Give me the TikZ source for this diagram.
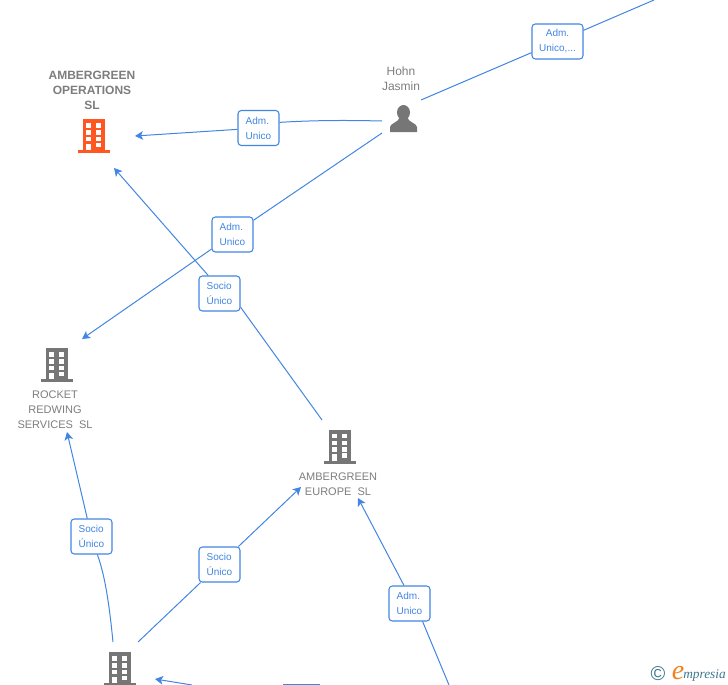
\documentclass[tikz,border=0pt]{standalone}
\usepackage{fontspec}
\usepackage{xcolor}
\setmainfont{Liberation Sans}
\newfontfamily\logofont{Liberation Serif}
\usetikzlibrary{arrows.meta,positioning}
\definecolor{linkblue}{RGB}{66,133,226}
\definecolor{labelgrey}{RGB}{125,125,125}
\definecolor{icongrey}{RGB}{118,118,118}
\definecolor{iconorange}{RGB}{255,87,34}
\definecolor{logoteal}{RGB}{62,118,140}
\definecolor{logoorange}{RGB}{240,130,30}
\tikzset{
    roleBox/.style={draw=linkblue, fill=white, rounded corners=2.5pt, line width=0.8pt, text=linkblue, align=left, inner sep=0pt, minimum width=30.75pt, minimum height=26.25pt, font=\fontsize{7.5}{11.25}\selectfont},
    link/.style={draw=linkblue, line width=0.75pt},
    linkArrow/.style={link, -{Stealth[length=6pt,width=6.5pt,inset=1.5pt]}},
    nameLabel/.style={text=labelgrey, align=center, inner sep=0pt, font=\fontsize{8.25}{11.25}\selectfont},
    pics/building/.style={code={
        \fill[pic actions] (-11.5,0) rectangle (11,31);
        \fill[pic actions] (-16,31) rectangle (16,34);
        \foreach \wy in {4, 11, 17.5} {
            \fill[white] (-8,\wy) rectangle (-2.8,\wy+4.5);
            \fill[white] (2,\wy) rectangle (7.2,\wy+4.5);
        }
        \fill[white] (2,23.5) rectangle (7.2,28);
        \fill[white] (-8,24.5) rectangle (-2.8,31);
    }},
    pics/person/.style={code={
        \fill[pic actions] (0,-0.5) ellipse (6.5 and 7.5);
        \fill[pic actions] (-13.5,19) -- (-13.5,14) .. controls (-13,10) and (-5,9.5) .. (-3.5,4) -- (3.5,4) .. controls (5,9.5) and (13,10) .. (13.5,14) -- (13.5,19) -- cycle;
    }}
}
\begin{document}
\begin{tikzpicture}[x=0.75pt, y=-0.75pt]
    \useasboundingbox (0,0) rectangle (728,685);
    \begin{scope}
    \clip (0,0) rectangle (728,685);

    % Icons
    \pic[fill=iconorange] (opsIcon) at (94,119) {building};
    \pic[fill=icongrey] (rocketIcon) at (57,348) {building};
    \pic[fill=icongrey] (europeIcon) at (340,429.5) {building};
    \pic[fill=icongrey] (groupIcon) at (120,652) {building};
    \pic[fill=icongrey] (hohnIcon) at (403.5,113) {person};

    % Names
    \node[nameLabel, font=\fontsize{9}{11.25}\bfseries\selectfont] (opsName) at (92,90) {AMBERGREEN\\OPERATIONS\\SL};
    \node[nameLabel, font=\fontsize{9}{11.25}\selectfont] (hohnName) at (401,78.5) {Hohn\\Jasmin};
    \node[nameLabel] (rocketName) at (55,410) {ROCKET\\REDWING\\SERVICES\ \ SL};
    \node[nameLabel] (europeName) at (338,484.5) {AMBERGREEN\\EUROPE\ \ SL};

    % Role boxes
    \node[roleBox] (admOps) at (258.5,128) {Adm.\\Unico};
    \node[roleBox, align=center, minimum width=38.25pt] (admTop) at (557.5,41.5) {Adm.\\Unico,...};
    \node[roleBox] (admRocket) at (232.5,234.5) {Adm.\\Unico};
    \node[roleBox] (socioOps) at (219.5,293.5) {Socio\\Único};
    \node[roleBox] (socioRocket) at (91.5,536.5) {Socio\\Único};
    \node[roleBox] (socioEurope) at (219.5,564.5) {Socio\\Único};
    \node[roleBox] (admEurope) at (409.5,603.5) {Adm.\\Unico};

    % Free ends
    \coordinate (hohnLeft) at (382,121);
    \coordinate (hohnLow) at (382,133);
    \coordinate (hohnRight) at (421,100);
    \coordinate (offTop) at (654,0);
    \coordinate (opsRight) at (135,136);
    \coordinate (opsBelow) at (114,168);
    \coordinate (rocketTop) at (82,339);
    \coordinate (rocketBelow) at (67,432);
    \coordinate (europeTop) at (322,420);
    \coordinate (europeLeft) at (301,487);
    \coordinate (europeBelow) at (358,498);
    \coordinate (groupTop) at (113,642);
    \coordinate (groupTopRight) at (138,642);
    \coordinate (groupRight) at (155,679);
    \coordinate (offBottomA) at (192,685);
    \coordinate (offBottomB) at (283,684.5);
    \coordinate (offBottomC) at (320,684.5);
    \coordinate (offBottomD) at (449,685);

    % Arrows
    \draw[link] (hohnLeft) .. controls (340,120) and (310,120.5) .. (admOps.15);
    \draw[linkArrow] (admOps) -- (opsRight);
    \draw[link] (hohnRight) -- (admTop);
    \draw[link] (admTop) -- (offTop);
    \draw[link] (hohnLow) -- (admRocket);
    \draw[linkArrow] (admRocket) -- (rocketTop);
    \draw[link] (europeTop) -- (socioOps.-33);
    \draw[linkArrow] (socioOps.122) -- (opsBelow);
    \draw[link] (groupTop) .. controls (110,612) and (106,578) .. (socioRocket.-72);
    \draw[linkArrow] (socioRocket) -- (rocketBelow);
    \draw[link] (groupTopRight) -- (socioEurope);
    \draw[linkArrow] (socioEurope) -- (europeLeft);
    \draw[link] (offBottomD) -- (admEurope.-54);
    \draw[linkArrow] (admEurope.107) -- (europeBelow);
    \draw[linkArrow] (offBottomA) -- (groupRight);
    \draw[link] (offBottomC) -- (offBottomB);

    % Logo
    \node[text=logoteal, inner sep=0pt, font=\fontsize{15}{15}\selectfont] (logoMark) at (658,673.5) {©};
    \node[text=logoorange, inner sep=0pt, anchor=base, font=\logofont\itshape\fontsize{21}{21}\selectfont] (logoE) at (678,679) {e};
    \node[text=logoteal, inner sep=0pt, anchor=base west, font=\logofont\itshape\fontsize{10}{12}\selectfont] (logoText) at (683,678) {mpresia};
    \end{scope}
\end{tikzpicture}
\end{document}
